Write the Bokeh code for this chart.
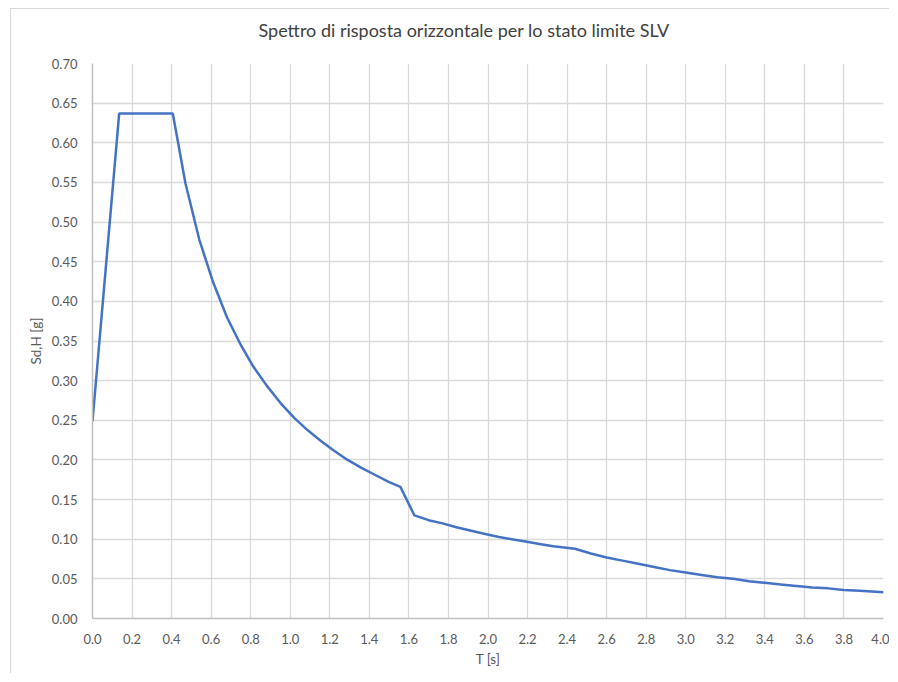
from bokeh.plotting import figure
from bokeh.models import FixedTicker, PrintfTickFormatter, Range1d, ColumnDataSource, Title
from bokeh.embed import file_html
from bokeh.resources import INLINE

# Period T [s]
T = [0.00, 0.135, 0.406, 0.47, 0.54, 0.61, 0.68, 0.75, 0.81, 0.88, 0.95, 1.02,
     1.09, 1.16, 1.22, 1.29, 1.36, 1.43, 1.50, 1.557, 1.628, 1.70, 1.77, 1.84,
     1.91, 1.98, 2.05, 2.12, 2.19, 2.26, 2.33, 2.44, 2.52, 2.60, 2.68, 2.76,
     2.84, 2.92, 3.00, 3.08, 3.16, 3.24, 3.32, 3.40, 3.48, 3.56, 3.64, 3.72,
     3.80, 3.88, 4.00]
# Spectral acceleration Sd,H [g]
SdH = [0.249, 0.637, 0.637, 0.549, 0.478, 0.424, 0.380, 0.345, 0.319, 0.294,
       0.272, 0.253, 0.237, 0.223, 0.212, 0.200, 0.190, 0.181, 0.172, 0.166,
       0.130, 0.124, 0.120, 0.115, 0.111, 0.107, 0.103, 0.100, 0.097, 0.094,
       0.091, 0.088, 0.082, 0.077, 0.073, 0.069, 0.065, 0.061, 0.058, 0.055,
       0.052, 0.050, 0.047, 0.045, 0.043, 0.041, 0.039, 0.038, 0.036, 0.035,
       0.033]

x_ticks = [round(i * 0.2, 1) for i in range(21)]
y_ticks = [round(i * 0.05, 2) for i in range(15)]
title_text = "Spettro di risposta orizzontale per lo stato limite SLV"
x_label = "T [s]"
y_label = "Sd,H [g]"

src = ColumnDataSource(dict(T=T, S=SdH))

p = figure(width=879, height=665, output_backend="svg", toolbar_location=None,
           x_range=Range1d(0, 4.0), y_range=Range1d(0, 0.70),
           min_border_left=81, min_border_right=7, min_border_top=54,
           min_border_bottom=56, title=None)
p.styles = {"margin-left": "10px", "margin-top": "8px",
            "border-left": "1px solid #d9d9d9", "border-top": "1px solid #d9d9d9"}

spacer = Title(text=" ", text_font_size="19px", standoff=0)
main_title = Title(text=title_text, align="left", offset=166, text_font="Lato",
                   text_font_style="normal", text_font_size="18px",
                   text_color="#404040", standoff=0)
p.add_layout(spacer, "above")
p.add_layout(main_title, "above")

p.line("T", "S", source=src, line_color="#4472C4", line_width=2.5)

for ax in (p.xaxis[0], p.yaxis[0]):
    ax.axis_line_color = "#bfbfbf"
    ax.axis_line_width = 1.5
    ax.major_tick_line_color = None
    ax.minor_tick_line_color = None
    ax.major_label_text_font = "Lato"
    ax.major_label_text_font_size = "13px"
    ax.major_label_text_color = "#595959"
    ax.axis_label_text_font = "Lato"
    ax.axis_label_text_font_style = "normal"
    ax.axis_label_text_font_size = "13.5px"
    ax.axis_label_text_color = "#595959"

p.xaxis[0].ticker = FixedTicker(ticks=x_ticks)
p.xaxis[0].formatter = PrintfTickFormatter(format="%.1f")
p.xaxis[0].axis_label = x_label
p.xaxis[0].major_label_standoff = 9
p.xaxis[0].axis_label_standoff = 4

p.yaxis[0].ticker = FixedTicker(ticks=y_ticks)
p.yaxis[0].formatter = PrintfTickFormatter(format="%.2f")
p.yaxis[0].axis_label = y_label
p.yaxis[0].major_label_standoff = 9
p.yaxis[0].axis_label_standoff = 5

p.xgrid.grid_line_color = "#d9d9d9"
p.ygrid.grid_line_color = "#d9d9d9"
p.xgrid.grid_line_width = 1.3
p.ygrid.grid_line_width = 1.3
p.outline_line_color = None
p.background_fill_color = "white"
p.border_fill_color = "white"

open("out.html", "w").write(file_html(p, INLINE))
